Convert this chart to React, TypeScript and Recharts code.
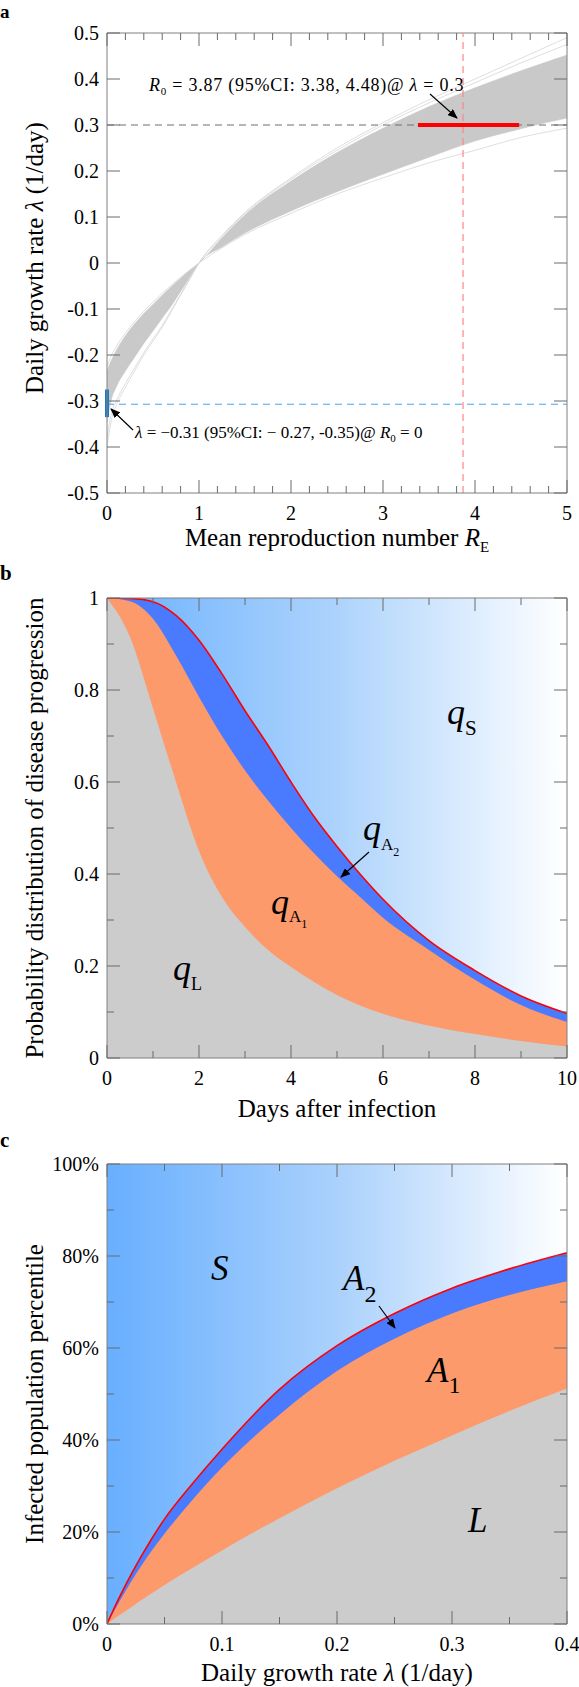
import React from 'react';
import { ComposedChart, Area, Line, XAxis, YAxis, ReferenceLine } from 'recharts';

const FONT = '"Liberation Serif", "Times New Roman", serif';
const AXIS = '#808080';
const TICK = '#6a6a6a';

// ---------- Panel a ----------
const rValues = [0, 0.05, 0.1, 0.2, 0.3, 0.4, 0.5, 0.6, 0.7, 0.8, 0.9, 1, 1.25, 1.5, 2, 2.5, 3, 3.5, 4, 4.5, 5];
const bandLow = [-0.345, -0.295, -0.27, -0.235, -0.205, -0.175, -0.148, -0.12, -0.093, -0.062, -0.031, 0, 0.035, 0.065, 0.113, 0.155, 0.193, 0.23, 0.265, 0.292, 0.315];
const bandHigh = [-0.235, -0.21, -0.19, -0.158, -0.132, -0.11, -0.09, -0.07, -0.051, -0.033, -0.016, 0, 0.055, 0.105, 0.178, 0.24, 0.293, 0.34, 0.381, 0.418, 0.452];
const traceOuter1 = [-0.4, -0.34, -0.31, -0.27, -0.235, -0.2, -0.17, -0.14, -0.105, -0.07, -0.035, 0, 0.06, 0.11, 0.185, 0.25, 0.305, 0.355, 0.4, 0.445, 0.49];
const traceOuter2 = [-0.38, -0.325, -0.3, -0.262, -0.228, -0.195, -0.165, -0.136, -0.102, -0.068, -0.034, 0, 0.058, 0.108, 0.182, 0.245, 0.3, 0.348, 0.392, 0.435, 0.475];
const traceLow = [-0.225, -0.2, -0.182, -0.152, -0.127, -0.105, -0.085, -0.066, -0.048, -0.031, -0.015, 0, 0.033, 0.062, 0.108, 0.15, 0.185, 0.218, 0.245, 0.273, 0.293];
const aXTicks = [0, 0.2, 0.4, 0.6, 0.8, 1, 1.2, 1.4, 1.6, 1.8, 2, 2.2, 2.4, 2.6, 2.8, 3, 3.2, 3.4, 3.6, 3.8, 4, 4.2, 4.4, 4.6, 4.8, 5];
const aYTicks = [-0.5, -0.4, -0.3, -0.2, -0.1, 0, 0.1, 0.2, 0.3, 0.4, 0.5];
const r0Estimate = 3.87;
const r0CI = [3.38, 4.48];
const lambdaTarget = 0.3;
const lambdaAtZero = -0.307;
const lambdaCI = [-0.275, -0.335];

// ---------- Panel b ----------
const days = [0, 0.5, 1, 1.5, 2, 2.5, 3, 3.5, 4, 4.5, 5, 5.5, 6, 7, 8, 9, 10];
const cumLatent = [1, 0.915, 0.76, 0.6, 0.45, 0.35, 0.285, 0.235, 0.198, 0.165, 0.137, 0.114, 0.096, 0.07, 0.052, 0.037, 0.025];
const cumA1 = [1, 0.993, 0.955, 0.875, 0.785, 0.7, 0.625, 0.56, 0.5, 0.445, 0.395, 0.35, 0.305, 0.235, 0.17, 0.115, 0.078];
const cumA2 = [1, 0.999, 0.992, 0.962, 0.908, 0.835, 0.755, 0.68, 0.6, 0.525, 0.46, 0.4, 0.345, 0.255, 0.19, 0.135, 0.097];
const bXTicks = [0, 1, 2, 3, 4, 5, 6, 7, 8, 9, 10];
const bYTicks = [0, 0.1, 0.2, 0.3, 0.4, 0.5, 0.6, 0.7, 0.8, 0.9, 1];

// ---------- Panel c ----------
const growthRates = [0, 0.01, 0.02, 0.03, 0.05, 0.075, 0.1, 0.15, 0.2, 0.25, 0.3, 0.35, 0.4];
const popLatent = [0, 0.018, 0.035, 0.052, 0.085, 0.123, 0.16, 0.23, 0.295, 0.355, 0.41, 0.463, 0.512];
const popA1 = [0, 0.045, 0.088, 0.127, 0.196, 0.272, 0.34, 0.455, 0.55, 0.62, 0.675, 0.715, 0.745];
const popA2 = [0, 0.054, 0.103, 0.148, 0.228, 0.307, 0.38, 0.51, 0.605, 0.675, 0.73, 0.772, 0.807];
const cXTicks = [0, 0.05, 0.1, 0.15, 0.2, 0.25, 0.3, 0.35, 0.4];
const cYTicks = [0, 0.1, 0.2, 0.3, 0.4, 0.5, 0.6, 0.7, 0.8, 0.9, 1];

const dataA = rValues.map((r, i) => ({
  r,
  band: [bandLow[i], bandHigh[i]],
  o1: traceOuter1[i],
  o2: traceOuter2[i],
  lo: traceLow[i],
}));
const dataB = days.map((t, i) => ({ t, full: 1, l: cumLatent[i], a1: cumA1[i], a2: cumA2[i] }));
const dataC = growthRates.map((g, i) => ({ g, full: 1, l: popLatent[i], a1: popA1[i], a2: popA2[i] }));

const PLOT_TOP = 33;
const PLOT_BOTTOM = 493;
const PLOT_LEFT = 107;
const PLOT_RIGHT = 567;

const near = (a: number, b: number) => Math.abs(a - b) < 1e-6;

function makeXTick(isMajor: (v: number) => boolean, fmt: (v: number) => string) {
  return (props: any) => {
    const { x, payload } = props;
    const v = payload.value;
    const major = isMajor(v);
    const len = major ? 13 : 7;
    return (
      <g>
        <line x1={x} x2={x} y1={PLOT_BOTTOM} y2={PLOT_BOTTOM - len} stroke={TICK} strokeWidth={1} />
        <line x1={x} x2={x} y1={PLOT_TOP} y2={PLOT_TOP + len} stroke={TICK} strokeWidth={1} />
        {major && (
          <text x={x} y={PLOT_BOTTOM + 27} textAnchor="middle" fontFamily={FONT} fontSize={20} fill="#000">
            {fmt(v)}
          </text>
        )}
      </g>
    );
  };
}

function makeYTick(isMajor: (v: number) => boolean, fmt: (v: number) => string) {
  return (props: any) => {
    const { y, payload } = props;
    const v = payload.value;
    const major = isMajor(v);
    const len = major ? 13 : 7;
    return (
      <g>
        <line x1={PLOT_LEFT} x2={PLOT_LEFT + len} y1={y} y2={y} stroke={TICK} strokeWidth={1} />
        <line x1={PLOT_RIGHT} x2={PLOT_RIGHT - len} y1={y} y2={y} stroke={TICK} strokeWidth={1} />
        {major && (
          <text x={PLOT_LEFT - 8} y={y + 7} textAnchor="end" fontFamily={FONT} fontSize={20} fill="#000">
            {fmt(v)}
          </text>
        )}
      </g>
    );
  };
}

const aXTick = makeXTick((v) => near(v, Math.round(v)), (v) => String(Math.round(v)));
const aYTick = makeYTick(() => true, (v) => (near(v, 0) ? '0' : v.toFixed(1)));
const bXTick = makeXTick((v) => Math.round(v) % 2 === 0, (v) => String(v));
const bYTick = makeYTick((v) => Math.round(v * 10) % 2 === 0, (v) => (near(v, 0) ? '0' : near(v, 1) ? '1' : v.toFixed(1)));
const cXTick = makeXTick((v) => near(v * 10, Math.round(v * 10)), (v) => (near(v, 0) ? '0' : v.toFixed(1)));
const cYTick = makeYTick((v) => Math.round(v * 10) % 2 === 0, (v) => `${Math.round(v * 100)}%`);

const GREY = '#cccccc';
const ORANGE = '#fd9a6c';
const BLUE = '#4a7bff';
const RED = '#ff0000';

function PanelA() {
  return (
    <ComposedChart width={579} height={565} data={dataA} margin={{ top: PLOT_TOP, right: 12, bottom: 0, left: 0 }}>
      <XAxis dataKey="r" type="number" domain={[0, 5]} ticks={aXTicks} interval={0} height={72} tick={aXTick} tickLine={false} axisLine={{ stroke: AXIS }} allowDataOverflow />
      <YAxis type="number" domain={[-0.5, 0.5]} ticks={aYTicks} interval={0} width={107} tick={aYTick} tickLine={false} axisLine={{ stroke: AXIS }} allowDataOverflow />
      <Area dataKey="band" type="monotone" fill="#c9c9c9" fillOpacity={1} stroke="#c9c9c9" strokeWidth={0.5} isAnimationActive={false} />
      <Line dataKey="o1" type="monotone" stroke="#d6d6d6" strokeWidth={0.8} dot={false} isAnimationActive={false} />
      <Line dataKey="o2" type="monotone" stroke="#d6d6d6" strokeWidth={0.8} dot={false} isAnimationActive={false} />
      <Line dataKey="lo" type="monotone" stroke="#d6d6d6" strokeWidth={0.8} dot={false} isAnimationActive={false} />
      <ReferenceLine y={0.5} stroke={AXIS} />
      <ReferenceLine x={5} stroke={AXIS} />
      <ReferenceLine y={lambdaTarget} stroke="#6e6e6e" strokeDasharray="7 5" strokeWidth={1} />
      <ReferenceLine y={lambdaAtZero} stroke="#45a5ef" strokeDasharray="7 5" strokeWidth={1} />
      <ReferenceLine x={r0Estimate} stroke="#ff8585" strokeDasharray="7 5" strokeWidth={1.2} />
      <ReferenceLine segment={[{ x: r0CI[0], y: lambdaTarget }, { x: r0CI[1], y: lambdaTarget }]} stroke={RED} strokeWidth={4} />
      <ReferenceLine segment={[{ x: 0, y: lambdaCI[0] }, { x: 0, y: lambdaCI[1] }]} stroke="#1a78c8" strokeWidth={4} />
    </ComposedChart>
  );
}

function PanelB() {
  return (
    <ComposedChart width={579} height={566} data={dataB} margin={{ top: PLOT_TOP, right: 12, bottom: 0, left: 0 }}>
      <defs>
        <linearGradient id="gradB" x1="0" y1="0" x2="1" y2="0">
          <stop offset="0%" stopColor="#6cb2ff" />
          <stop offset="50%" stopColor="#add3fc" />
          <stop offset="100%" stopColor="#ffffff" />
        </linearGradient>
      </defs>
      <XAxis dataKey="t" type="number" domain={[0, 10]} ticks={bXTicks} interval={0} height={73} tick={bXTick} tickLine={false} axisLine={{ stroke: AXIS }} allowDataOverflow />
      <YAxis type="number" domain={[0, 1]} ticks={bYTicks} interval={0} width={107} tick={bYTick} tickLine={false} axisLine={{ stroke: AXIS }} allowDataOverflow />
      <Area dataKey="full" type="linear" fill="url(#gradB)" fillOpacity={1} stroke="none" isAnimationActive={false} />
      <Area dataKey="a2" type="monotone" fill={BLUE} fillOpacity={1} stroke="none" isAnimationActive={false} />
      <Area dataKey="a1" type="monotone" fill={ORANGE} fillOpacity={1} stroke="none" isAnimationActive={false} />
      <Area dataKey="l" type="monotone" fill={GREY} fillOpacity={1} stroke="none" isAnimationActive={false} />
      <Line dataKey="a2" type="monotone" stroke={RED} strokeWidth={1.6} dot={false} isAnimationActive={false} />
      <ReferenceLine y={1} stroke={AXIS} />
      <ReferenceLine x={10} stroke={AXIS} />
    </ComposedChart>
  );
}

function PanelC() {
  return (
    <ComposedChart width={579} height={556} data={dataC} margin={{ top: PLOT_TOP, right: 12, bottom: 0, left: 0 }}>
      <defs>
        <linearGradient id="gradC" x1="0" y1="0" x2="1" y2="0">
          <stop offset="0%" stopColor="#68afff" />
          <stop offset="50%" stopColor="#aad1fc" />
          <stop offset="100%" stopColor="#ffffff" />
        </linearGradient>
      </defs>
      <XAxis dataKey="g" type="number" domain={[0, 0.4]} ticks={cXTicks} interval={0} height={63} tick={cXTick} tickLine={false} axisLine={{ stroke: AXIS }} allowDataOverflow />
      <YAxis type="number" domain={[0, 1]} ticks={cYTicks} interval={0} width={107} tick={cYTick} tickLine={false} axisLine={{ stroke: AXIS }} allowDataOverflow />
      <Area dataKey="full" type="linear" fill="url(#gradC)" fillOpacity={1} stroke="none" isAnimationActive={false} />
      <Area dataKey="a2" type="monotone" fill={BLUE} fillOpacity={1} stroke="none" isAnimationActive={false} />
      <Area dataKey="a1" type="monotone" fill={ORANGE} fillOpacity={1} stroke="none" isAnimationActive={false} />
      <Area dataKey="l" type="monotone" fill={GREY} fillOpacity={1} stroke="none" isAnimationActive={false} />
      <Line dataKey="a2" type="monotone" stroke={RED} strokeWidth={1.6} dot={false} isAnimationActive={false} />
      <ReferenceLine y={1} stroke={AXIS} />
      <ReferenceLine x={0.4} stroke={AXIS} />
    </ComposedChart>
  );
}

function Overlay() {
  const it = { fontStyle: 'italic' as const };
  return (
    <svg width={579} height={1687} style={{ position: 'absolute', left: 0, top: 0, pointerEvents: 'none' }} fontFamily={FONT}>
      <defs>
        <marker id="arrowHead" markerWidth="10" markerHeight="8" refX="9" refY="4" orient="auto" markerUnits="userSpaceOnUse">
          <path d="M0,0 L10,4 L0,8 z" fill="#000" />
        </marker>
      </defs>
      {/* panel labels */}
      <text x={0} y={18} fontSize={19} fontWeight="bold">a</text>
      <text x={0} y={580} fontSize={21} fontWeight="bold">b</text>
      <text x={0} y={1147} fontSize={21} fontWeight="bold">c</text>

      {/* Panel a */}
      <text x={149} y={91} fontSize={18} style={{ letterSpacing: '0.75px' }}>
        <tspan {...it}>R</tspan>
        <tspan fontSize={11} dy={4}>0</tspan>
        <tspan dy={-4}>{' = 3.87 (95%CI: 3.38, 4.48)@ '}</tspan>
        <tspan {...it}>λ</tspan>
        <tspan>{' = 0.3'}</tspan>
      </text>
      <line x1={430} y1={94} x2={457} y2={118} stroke="#000" strokeWidth={1.2} markerEnd="url(#arrowHead)" />
      <text x={135} y={438} fontSize={17}>
        <tspan {...it}>λ</tspan>
        <tspan>{' = −0.31 (95%CI: − 0.27, -0.35)@ '}</tspan>
        <tspan {...it}>R</tspan>
        <tspan fontSize={11} dy={4}>0</tspan>
        <tspan dy={-4}>{' = 0'}</tspan>
      </text>
      <line x1={133} y1={430} x2={111} y2={409} stroke="#000" strokeWidth={1.2} markerEnd="url(#arrowHead)" />
      <text x={337} y={546} fontSize={25} textAnchor="middle">
        <tspan>Mean reproduction number </tspan>
        <tspan {...it}>R</tspan>
        <tspan fontSize={15} dy={6}>E</tspan>
      </text>
      <text x={43} y={258} fontSize={25} textAnchor="middle" transform="rotate(-90 43 258)">
        <tspan>Daily growth rate </tspan>
        <tspan {...it}>λ</tspan>
        <tspan> (1/day)</tspan>
      </text>

      {/* Panel b */}
      <text x={447} y={724} fontSize={36}>
        <tspan {...it}>q</tspan>
        <tspan fontSize={21} dy={11}>S</tspan>
      </text>
      <text x={363} y={840} fontSize={36}>
        <tspan {...it}>q</tspan>
        <tspan fontSize={17} dy={10}>A</tspan>
        <tspan fontSize={12} dy={6}>2</tspan>
      </text>
      <line x1={369} y1={852} x2={341} y2={877} stroke="#000" strokeWidth={1.2} markerEnd="url(#arrowHead)" />
      <text x={271} y={914} fontSize={36}>
        <tspan {...it}>q</tspan>
        <tspan fontSize={17} dy={8}>A</tspan>
        <tspan fontSize={12} dy={6}>1</tspan>
      </text>
      <text x={173} y={980} fontSize={36}>
        <tspan {...it}>q</tspan>
        <tspan fontSize={18} dy={10}>L</tspan>
      </text>
      <text x={337} y={1117} fontSize={25} textAnchor="middle">Days after infection</text>
      <text x={43} y={828} fontSize={25} textAnchor="middle" transform="rotate(-90 43 828)">
        Probability distribution of disease progression
      </text>

      {/* Panel c */}
      <text x={211} y={1280} fontSize={35} {...it}>S</text>
      <text x={343} y={1290} fontSize={35}>
        <tspan {...it}>A</tspan>
        <tspan fontSize={24} dy={12}>2</tspan>
      </text>
      <line x1={379} y1={1306} x2={395} y2={1328} stroke="#000" strokeWidth={1.2} markerEnd="url(#arrowHead)" />
      <text x={427} y={1382} fontSize={35}>
        <tspan {...it}>A</tspan>
        <tspan fontSize={24} dy={11}>1</tspan>
      </text>
      <text x={468} y={1532} fontSize={35} {...it}>L</text>
      <text x={337} y={1681} fontSize={25} textAnchor="middle">
        <tspan>Daily growth rate </tspan>
        <tspan {...it}>λ</tspan>
        <tspan> (1/day)</tspan>
      </text>
      <text x={43} y={1394} fontSize={25} textAnchor="middle" transform="rotate(-90 43 1394)">
        Infected population percentile
      </text>
    </svg>
  );
}

export default function App() {
  return (
    <div style={{ position: 'absolute', left: 0, top: 0, width: 579, height: 1687, background: '#fff', fontFamily: FONT }}>
      <div style={{ position: 'absolute', left: 0, top: 0 }}><PanelA /></div>
      <div style={{ position: 'absolute', left: 0, top: 565 }}><PanelB /></div>
      <div style={{ position: 'absolute', left: 0, top: 1131 }}><PanelC /></div>
      <Overlay />
    </div>
  );
}
